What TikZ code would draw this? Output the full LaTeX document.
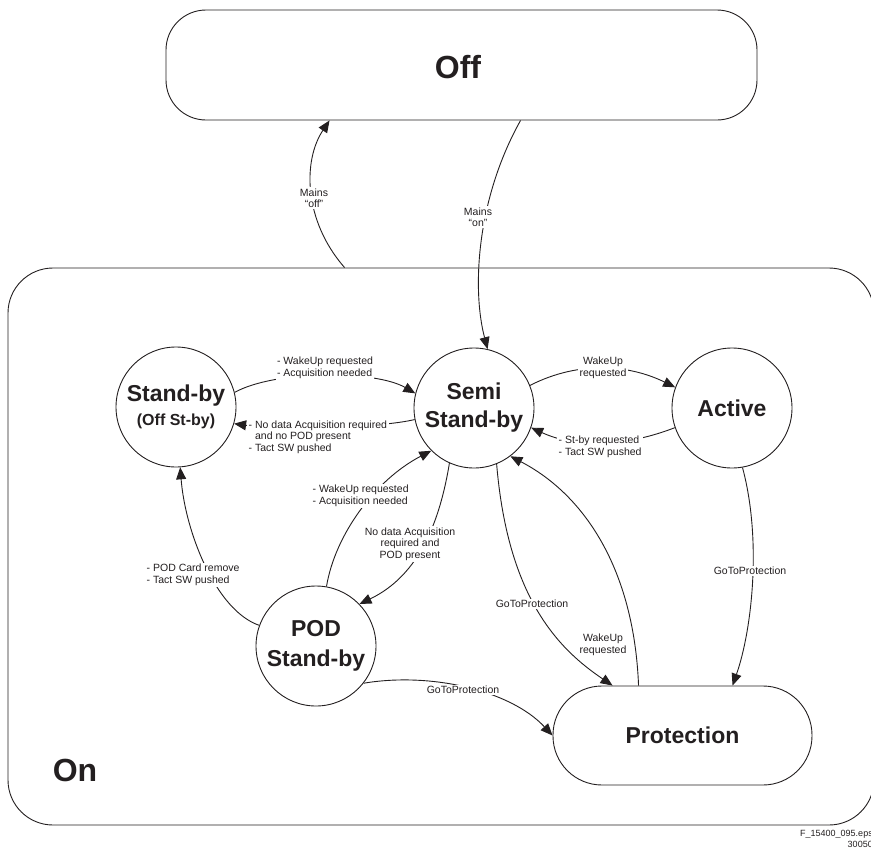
\documentclass[tikz,border=0pt]{standalone}
\usepackage{fontspec}
\setmainfont{Liberation Sans}
\usetikzlibrary{arrows.meta,calc}
\definecolor{ink}{RGB}{35,31,32}
\begin{document}
\begin{tikzpicture}[x=1pt,y=1pt,
  line/.style={draw=ink,line width=0.9pt},
  arr/.style={line,-{Triangle[length=12pt,width=10pt]}},
  state/.style={circle,draw=ink,line width=0.9pt,minimum size=120pt,inner sep=0pt,align=center,text=ink,font=\fontsize{23}{28}\selectfont\bfseries},
  bigbox/.style={draw=ink,line width=0.9pt,rectangle,inner sep=0pt,text=ink},
  lbl/.style={fill=white,inner sep=1.5pt,text=ink,font=\fontsize{10.5}{11.5}\selectfont},
  title/.style={text=ink,font=\fontsize{32}{36}\selectfont\bfseries}
]
\useasboundingbox (0,0) rectangle (871,-849);

% containers
\node[bigbox,rounded corners=40pt,minimum width=591pt,minimum height=110pt] (off) at (461.5,-65) {};
\node[title] (offlabel) at (458,-67) {Off};
\node[bigbox,rounded corners=45pt,minimum width=866pt,minimum height=557pt] (on) at (441,-546.5) {};
\node[title] (onlabel) at (75,-770) {On};

% states
\node[state,font=\fontsize{23}{24}\selectfont\bfseries] (standby) at (176,-407) {Stand-by\\{\fontsize{16}{18}\selectfont (Off St-by)}};
\node[state] (semi) at (474,-408) {Semi\\Stand-by};
\node[state] (active) at (732,-408) {Active};
\node[state,font=\fontsize{23}{30}\selectfont\bfseries] (pod) at (316,-646) {POD\\Stand-by};
\node[bigbox,rounded corners=49pt,minimum width=259pt,minimum height=99pt,font=\fontsize{23}{28}\selectfont\bfseries] (protection) at (682.5,-735.5) {Protection};

% connectors
\draw[arr] ([xshift=337pt]on.north west) .. controls (303,-220) and (303,-160) .. ([xshift=164pt]off.south west);
\draw[arr] ([xshift=355pt]off.south west) .. controls (476,-200) and (472,-290) .. (semi.77);
\draw[arr] (standby.14) .. controls (275,-370) and (375,-370) .. (semi.166);
\draw[arr] (semi.191) .. controls (380,-428) and (280,-430) .. (standby.-16);
\draw[arr] (semi.22) .. controls (580,-360) and (630,-365) .. (active.160);
\draw[arr] (active.199) .. controls (630,-445) and (580,-450) .. (semi.-19);
\draw[arr] (pod.160) .. controls (215,-610) and (185,-530) .. (standby.-86);
\draw[arr] (semi.-114) .. controls (440,-520) and (420,-575) .. (pod.44);
\draw[arr] (pod.80) .. controls (335,-535) and (375,-480) .. (semi.-135);
\draw[arr] (semi.-68) .. controls (508,-600) and (560,-650) .. ([xshift=60pt]protection.north west);
\draw[arr] ([xshift=86pt]protection.north west) .. controls (634,-570) and (585,-495) .. (semi.-53);
\draw[arr] (active.-80) .. controls (762,-540) and (752,-630) .. ([xshift=180pt]protection.north west);
\draw[arr] (pod.-38) .. controls (430,-672) and (510,-690) .. (protection.west);

% labels
\node[lbl,align=center] (lmoff) at (314,-198) {Mains\\“off”};
\node[lbl,align=center] (lmon) at (478,-217) {Mains\\“on”};
\node[lbl,align=left] (l1) at (325,-368) {- WakeUp requested\\- Acquisition needed};
\node[lbl,align=left,anchor=west] (l2) at (247,-437) {- No data Acquisition required\\\hphantom{- }and no POD present\\- Tact SW pushed};
\node[lbl,align=center] (l3) at (603,-368) {WakeUp\\requested};
\node[lbl,align=left,anchor=west] (l4) at (557,-447) {- St-by requested\\- Tact SW pushed};
\node[lbl,align=left,anchor=west] (l5) at (145,-575) {- POD Card remove\\- Tact SW pushed};
\node[lbl,align=left,anchor=west] (l6) at (311,-496) {- WakeUp requested\\- Acquisition needed};
\node[lbl,align=center] (l7) at (410,-544) {No data Acquisition\\required and\\POD present};
\node[lbl] (l8) at (532,-604) {GoToProtection};
\node[lbl,align=center,fill=none] (l9) at (603,-645) {WakeUp\\requested};
\node[lbl] (l10) at (750,-571) {GoToProtection};
\node[lbl] (l11) at (463,-690) {GoToProtection};

% footer
\node[text=ink,font=\fontsize{9}{11}\selectfont,align=right,anchor=north west,inner sep=0pt] (foot) at (800,-830) {F\_15400\_095.eps\\30050};
\end{tikzpicture}
\end{document}
